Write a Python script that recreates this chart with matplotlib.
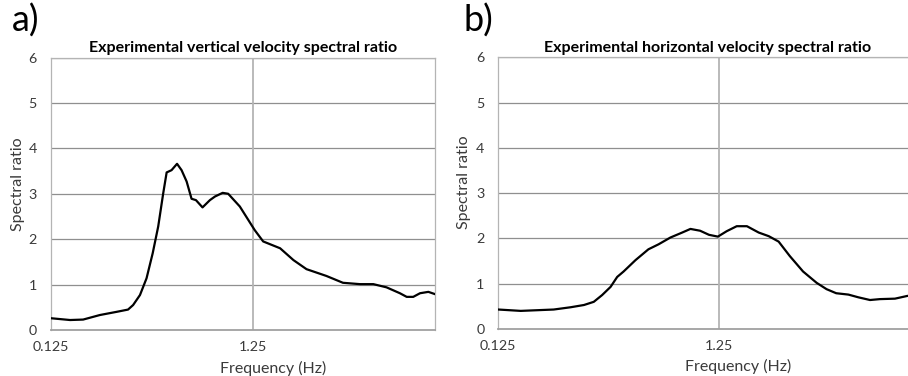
import matplotlib
matplotlib.use("Agg")
import matplotlib.pyplot as plt
from matplotlib.ticker import FixedLocator, NullLocator

plt.rcParams['font.family'] = ['Lato', 'DejaVu Sans']

# Vertical velocity spectral ratio
freq_v = [0.125, 0.156, 0.181, 0.219, 0.265, 0.302, 0.32, 0.346, 0.373, 0.40,
          0.426, 0.451, 0.469, 0.496, 0.528, 0.556, 0.589, 0.623, 0.655, 0.706,
          0.768, 0.814, 0.888, 0.946, 1.08, 1.28, 1.41, 1.71, 1.99, 2.31,
          2.90, 3.5, 4.25, 4.95, 5.75, 6.7, 7.24, 7.8, 8.43, 9.27, 10.0]
ratio_v = [0.26, 0.22, 0.23, 0.33, 0.40, 0.45, 0.55, 0.77, 1.14, 1.69,
           2.28, 3.01, 3.47, 3.52, 3.66, 3.52, 3.27, 2.89, 2.86, 2.70,
           2.86, 2.94, 3.02, 3.00, 2.72, 2.20, 1.95, 1.80, 1.54, 1.34,
           1.19, 1.04, 1.01, 1.01, 0.94, 0.81, 0.73, 0.73, 0.81, 0.84, 0.79]

# Horizontal velocity spectral ratio
freq_h = [0.125, 0.158, 0.223, 0.266, 0.306, 0.339, 0.370, 0.404, 0.433, 0.463,
          0.524, 0.60, 0.667, 0.755, 0.854, 0.931, 1.03, 1.13, 1.24, 1.36,
          1.51, 1.68, 1.90, 2.11, 2.34, 2.63, 3.02, 3.48, 3.86, 4.27,
          4.85, 5.38, 6.08, 6.75, 7.89, 8.97, 10.0]
ratio_h = [0.43, 0.40, 0.43, 0.48, 0.53, 0.60, 0.75, 0.93, 1.15, 1.27,
           1.52, 1.76, 1.87, 2.02, 2.13, 2.21, 2.17, 2.08, 2.04, 2.16,
           2.27, 2.27, 2.13, 2.05, 1.93, 1.61, 1.27, 1.02, 0.88, 0.79,
           0.76, 0.70, 0.64, 0.66, 0.67, 0.73, 0.76]

x_ticks = [0.125, 1.25]
x_tick_labels = ["0.125", "1.25"]
y_ticks = [0, 1, 2, 3, 4, 5, 6]

titles = ["Experimental vertical velocity spectral ratio",
          "Experimental horizontal velocity spectral ratio"]
panel_tags = ["a)", "b)"]

fig = plt.figure(figsize=(9.08, 3.76), dpi=100)
ax_a = fig.add_axes([0.0558, 0.1223, 0.4233, 0.7247])
ax_b = fig.add_axes([0.5488, 0.125, 0.4618, 0.7226])

grid_h = "#8f8f8f"
grid_v = "#b4b4b4"
text_c = "#3a3a3a"

for ax, f, r, title in [(ax_a, freq_v, ratio_v, titles[0]),
                        (ax_b, freq_h, ratio_h, titles[1])]:
    ax.set_xscale("log")
    ax.set_xlim(0.125, 10.0)
    ax.set_ylim(0, 6)
    ax.xaxis.set_major_locator(FixedLocator(x_ticks))
    ax.xaxis.set_minor_locator(NullLocator())
    ax.set_xticklabels(x_tick_labels)
    ax.set_yticks(y_ticks)
    ax.tick_params(length=0, labelsize=10.3, labelcolor=text_c)
    ax.tick_params(axis="x", pad=8)
    ax.tick_params(axis="y", pad=10)
    for y in y_ticks[1:]:
        ax.axhline(y, color=grid_h, lw=0.9, zorder=1)
    ax.axvline(1.25, color=grid_v, lw=1.3, zorder=1)
    for side in ["left", "right", "top"]:
        ax.spines[side].set_color(grid_v)
        ax.spines[side].set_linewidth(0.9)
    ax.spines["bottom"].set_color("#a0a0a0")
    ax.spines["bottom"].set_linewidth(1.3)
    ax.plot(f, r, color="black", lw=1.6, zorder=3,
            solid_joinstyle="round")
    ax.set_title(title, fontsize=11.5, fontweight="bold", pad=4)
    ax.set_xlabel("Frequency (Hz)", fontsize=11.5, color=text_c)
    ax.set_ylabel("Spectral ratio", fontsize=11.5, color=text_c)

ax_a.xaxis.set_label_coords(0.578, -0.112)
ax_a.yaxis.set_label_coords(-0.068, 0.535)
ax_b.xaxis.set_label_coords(0.572, -0.112)
ax_b.yaxis.set_label_coords(-0.066, 0.54)

fig.text(0.013, 0.99, panel_tags[0], fontsize=26, va="top", ha="left")
fig.text(0.510, 0.99, panel_tags[1], fontsize=26, va="top", ha="left")

fig.savefig("out.png", dpi=100)
